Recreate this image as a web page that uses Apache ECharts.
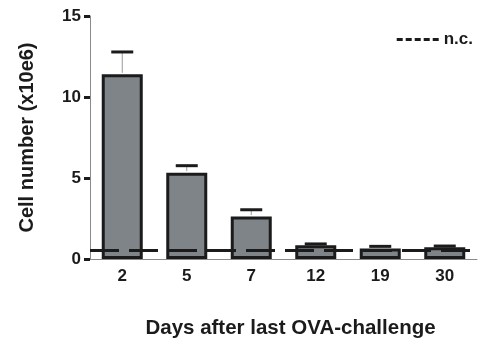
<!DOCTYPE html>
<html>
<head>
<meta charset="utf-8">
<script src="https://cdn.jsdelivr.net/npm/echarts@6/dist/echarts.min.js"></script>
<style>
  html, body { margin: 0; padding: 0; background: #fff; }
  #chart { width: 480px; height: 347px; }
</style>
</head>
<body>
<div id="chart"></div>
<script>
// Days after the last OVA challenge and mean cell counts (x10e6)
const days = ['2', '5', '7', '12', '19', '30'];
const cellMeans = [11.4, 5.33, 2.62, 0.85, 0.65, 0.72];
const cellUpper = [12.78, 5.76, 3.04, 0.93, 0.78, 0.80];
// Level of the naive-control (n.c.) reference
const ncLevel = [0.53];
const yTicks = [0, 5, 10, 15];

const font = '"Liberation Sans", Arial, sans-serif';
const ink = '#1b1b1b';

const chart = echarts.init(document.getElementById('chart'), null, { renderer: 'canvas' });

chart.setOption({
  animation: false,
  backgroundColor: '#fff',
  grid: { left: 90, right: 3, top: 16, bottom: 88, containLabel: false },
  legend: {
    right: 2,
    top: 26,
    itemWidth: 42,
    itemHeight: 3,
    itemGap: 4,
    data: [{
      name: 'n.c.',
      icon: 'path://M0,0h6v3h-6zM9,0h6v3h-6zM18,0h6v3h-6zM27,0h6v3h-6zM36,0h6v3h-6z',
      itemStyle: { color: ink }
    }],
    textStyle: { fontFamily: font, fontWeight: 'bold', fontSize: 17, color: ink, padding: [0, 0, 0, 0] }
  },
  xAxis: {
    type: 'category',
    data: days,
    name: 'Days after last OVA-challenge',
    nameLocation: 'middle',
    nameGap: 59,
    nameTextStyle: { fontFamily: font, fontWeight: 'bold', fontSize: 20.5, color: ink, padding: [0, 0, 0, 14] },
    axisLine: { lineStyle: { color: '#8a8a8a', width: 1 } },
    axisTick: { alignWithLabel: true, length: 6, lineStyle: { color: ink, width: 3 } },
    axisLabel: { fontFamily: font, fontWeight: 'bold', fontSize: 17, color: ink, margin: 9 }
  },
  yAxis: {
    type: 'value',
    min: yTicks[0],
    max: yTicks[yTicks.length - 1],
    interval: 5,
    name: 'Cell number (x10e6)',
    nameLocation: 'middle',
    nameGap: 53,
    nameTextStyle: { fontFamily: font, fontWeight: 'bold', fontSize: 20, color: ink },
    axisLine: { show: true, lineStyle: { color: '#8a8a8a', width: 1 } },
    axisTick: { show: true, length: 6, lineStyle: { color: ink, width: 3 } },
    axisLabel: { fontFamily: font, fontWeight: 'bold', fontSize: 17, color: ink, margin: 9 },
    splitLine: { show: false }
  },
  series: [
    {
      name: 'cells',
      type: 'bar',
      data: cellMeans,
      barWidth: 41,
      itemStyle: { color: '#7f8489', borderColor: ink, borderWidth: 3 },
      z: 2
    },
    {
      name: 'error',
      type: 'custom',
      data: days.map((d, i) => [i, cellMeans[i], cellUpper[i]]),
      encode: { x: 0, y: [1, 2] },
      z: 3,
      renderItem: function (params, api) {
        const i = api.value(0);
        const base = api.coord([i, api.value(1)]);
        const top = api.coord([i, api.value(2)]);
        const half = 11;
        return {
          type: 'group',
          children: [
            {
              type: 'line',
              shape: { x1: base[0], y1: base[1] - 1.5, x2: top[0], y2: top[1] },
              style: { stroke: '#9a9a9a', lineWidth: 1 }
            },
            {
              type: 'line',
              shape: { x1: top[0] - half, y1: top[1], x2: top[0] + half, y2: top[1] },
              style: { stroke: ink, lineWidth: 3 }
            }
          ]
        };
      }
    },
    {
      name: 'n.c.',
      type: 'line',
      data: [],
      color: ink,
      z: 5,
      markLine: {
        silent: true,
        symbol: ['none', 'none'],
        label: { show: false },
        lineStyle: { color: ink, width: 3, type: [29, 10] },
        data: [{ yAxis: ncLevel[0] }]
      }
    }
  ]
});
</script>
</body>
</html>
